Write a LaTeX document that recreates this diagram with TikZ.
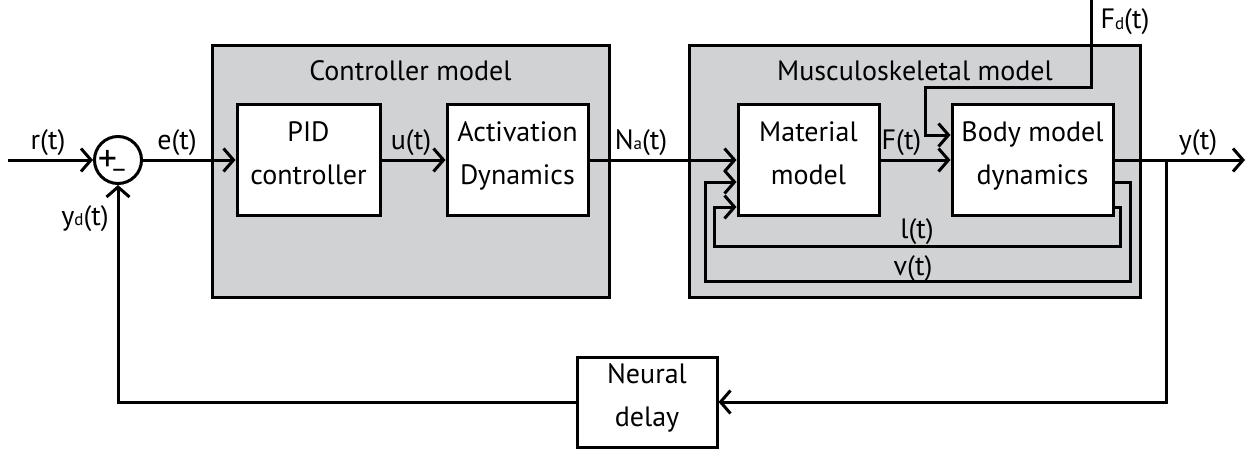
\documentclass[tikz,border=0pt]{standalone}
\usepackage{fontspec}
\setmainfont{PT Sans}
\usetikzlibrary{arrows.meta,positioning}
\definecolor{boxgray}{RGB}{209,210,212}
\newcommand{\low}[1]{\raisebox{-0.5pt}{\fontsize{17}{17}\selectfont #1}}

\begin{document}
\begin{tikzpicture}[x=1pt, y=-1pt, line width=3pt,
    >={Straight Barb[length=10pt,width=23pt]},
    every node/.style={font=\fontsize{28}{43}\selectfont},
    block/.style={draw, fill=white, minimum width=#1, minimum height=111pt, align=center, inner sep=0pt,
      execute at end node={\rule[-14pt]{0pt}{14pt}}},
    group/.style={draw, fill=boxgray, minimum width=#1, minimum height=251pt},
    sig/.style={anchor=base, inner sep=0pt},
    flow/.style={->}]
  \useasboundingbox (0,0) rectangle (1252,452);

  % Grey groups
  \node[group=397pt] (ctrl) at (410.5,171.5) {};
  \node[group=451pt] (musc) at (914.5,171.5) {};
  \node[sig] (ctrltitle) at (410.5,80) {Controller model};
  \node[sig] (musctitle) at (915,80) {Musculoskeletal model};

  % Blocks
  \node[draw, circle, minimum size=47pt, inner sep=0pt] (sum) at (118,160) {};
  \node[inner sep=0pt, font=\fontsize{38}{38}\selectfont] (plus) at (107.5,160.5) {+};
  \node[inner sep=0pt] (minus) at (119,168) {\_};
  \node[block=143pt] (pid) at (308.5,160) {PID\\controller};
  \node[block=141pt] (act) at (517.5,160) {Activation\\Dynamics};
  \node[block=141pt] (mat) at (808.5,160) {Material\\model};
  \node[block=161pt] (body) at (1032.5,160) {Body model\\dynamics};
  \node[block=140pt, minimum height=90pt] (delay) at (647,402) {Neural\\delay};

  \coordinate (in) at (8,160);
  \coordinate (out) at (1245,160);
  \coordinate (branch) at (1166,160);
  \coordinate (fdtop) at (1091,0);

  % Forward path
  \draw[flow] (in) -- (sum.west);
  \draw[flow] (sum.east) -- (pid.west);
  \draw[flow] (pid) -- (act);
  \draw[flow] (act) -- (mat);
  \draw[flow] (mat) -- (body);
  \draw[flow] (body) -- (out);
  \draw[flow] (fdtop) |- (925,87) |- ([yshift=25pt]body.west);

  % Feedback paths
  \draw[flow] ([yshift=-22pt]body.east) -| (1130,281) -| (705,182) -- ([yshift=-22pt]mat.west);
  \draw[flow] ([yshift=-47pt]body.east) -| (1120,246) -| (714,207) -- ([yshift=-47pt]mat.west);
  \draw[flow] (branch) |- (delay.east);
  \draw[flow] (delay.west) -| (sum.south);

  % Signal labels
  \node[sig] (rlab) at (48,149) {r(t)};
  \node[sig] (elab) at (177,149) {e(t)};
  \node[sig] (ulab) at (411,149) {u(t)};
  \node[sig] (nlab) at (641,149) {N\low{a}(t)};
  \node[sig] (flab) at (901.5,149) {F(t)};
  \node[sig] (ylab) at (1198,149) {y(t)};
  \node[sig] (fdlab) at (1125,29) {F\low{d}(t)};
  \node[sig] (ydlab) at (85,225) {y\low{d}(t)};
  \node[sig] (llab) at (917,238) {l(t)};
  \node[sig] (vlab) at (913,275) {v(t)};
\end{tikzpicture}
\end{document}
